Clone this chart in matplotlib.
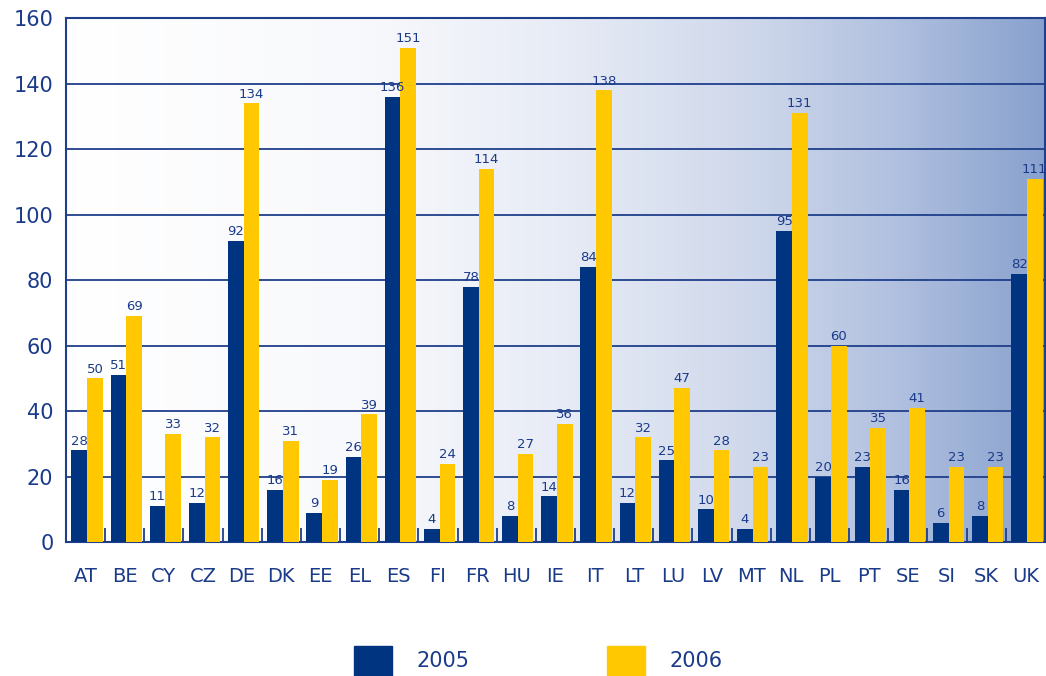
import matplotlib
matplotlib.use("Agg")
import matplotlib.pyplot as plt
import numpy as np
from matplotlib.colors import LinearSegmentedColormap
from matplotlib.patches import Patch

countries = ["AT", "BE", "CY", "CZ", "DE", "DK", "EE", "EL", "ES", "FI", "FR", "HU", "IE",
             "IT", "LT", "LU", "LV", "MT", "NL", "PL", "PT", "SE", "SI", "SK", "UK"]
v2005 = [28, 51, 11, 12, 92, 16, 9, 26, 136, 4, 78, 8, 14, 84, 12, 25, 10, 4, 95, 20, 23, 16, 6, 8, 82]
v2006 = [50, 69, 33, 32, 134, 31, 19, 39, 151, 24, 114, 27, 36, 138, 32, 47, 28, 23, 131, 60, 35, 41, 23, 23, 111]
years = ["2005", "2006"]

NAVY = "#003380"
YELLOW = "#ffc800"
TEXT = "#1a3a8a"
GRID = "#1f3f8a"

fig = plt.figure(figsize=(10.46, 6.76), dpi=100)
ax = fig.add_axes([0.063, 0.198, 0.936, 0.775])

# background gradient, white on the left to blue on the right
grad = LinearSegmentedColormap.from_list(
    "bg", [(0, "#ffffff"), (0.3, "#f8f9fc"), (0.5, "#e8ecf6"),
           (0.7, "#cfd8eb"), (0.85, "#b0c0df"), (1, "#88a1ce")])
ax.imshow(np.linspace(0, 1, 256)[None, :], cmap=grad, aspect="auto",
          extent=[0, 1, 0, 1], transform=ax.transAxes, zorder=0)

x = np.arange(len(countries))
w = 0.4
b1 = ax.bar(x - w / 2 + 0.04, v2005, w, color=NAVY, zorder=3, label=years[0])
b2 = ax.bar(x + w / 2 + 0.04, v2006, w, color=YELLOW, zorder=3, label=years[1])
for bars in (b1, b2):
    ax.bar_label(bars, padding=2, fontsize=9.5, color=TEXT)

ax.set_xlim(-0.5, len(countries) - 0.5)
ax.set_ylim(0, 160)
ax.set_yticks(range(0, 161, 20))
ax.yaxis.grid(True, color=GRID, lw=1.3, zorder=1)
ax.set_axisbelow(True)

ax.set_xticks(x)
ax.set_xticklabels(countries)
ax.set_xticks(x[:-1] + 0.5, minor=True)
ax.tick_params(axis="x", which="major", length=0, pad=18, labelsize=14, labelcolor=TEXT)
ax.tick_params(axis="x", which="minor", direction="in", length=10, width=1.3, color=GRID)
ax.tick_params(axis="y", length=0, pad=9, labelsize=15, labelcolor=TEXT)

for s in ax.spines.values():
    s.set_color(GRID)
    s.set_linewidth(1.5)

handles = [Patch(color=NAVY), Patch(color=YELLOW)]
fig.legend(handles, years, loc="lower center", bbox_to_anchor=(0.515, -0.027), ncol=2,
           frameon=False, fontsize=15, labelcolor=TEXT, handlelength=1.8, handleheight=1.8,
           handletextpad=1.2, columnspacing=6.6)

fig.savefig("out.png", dpi=100)
